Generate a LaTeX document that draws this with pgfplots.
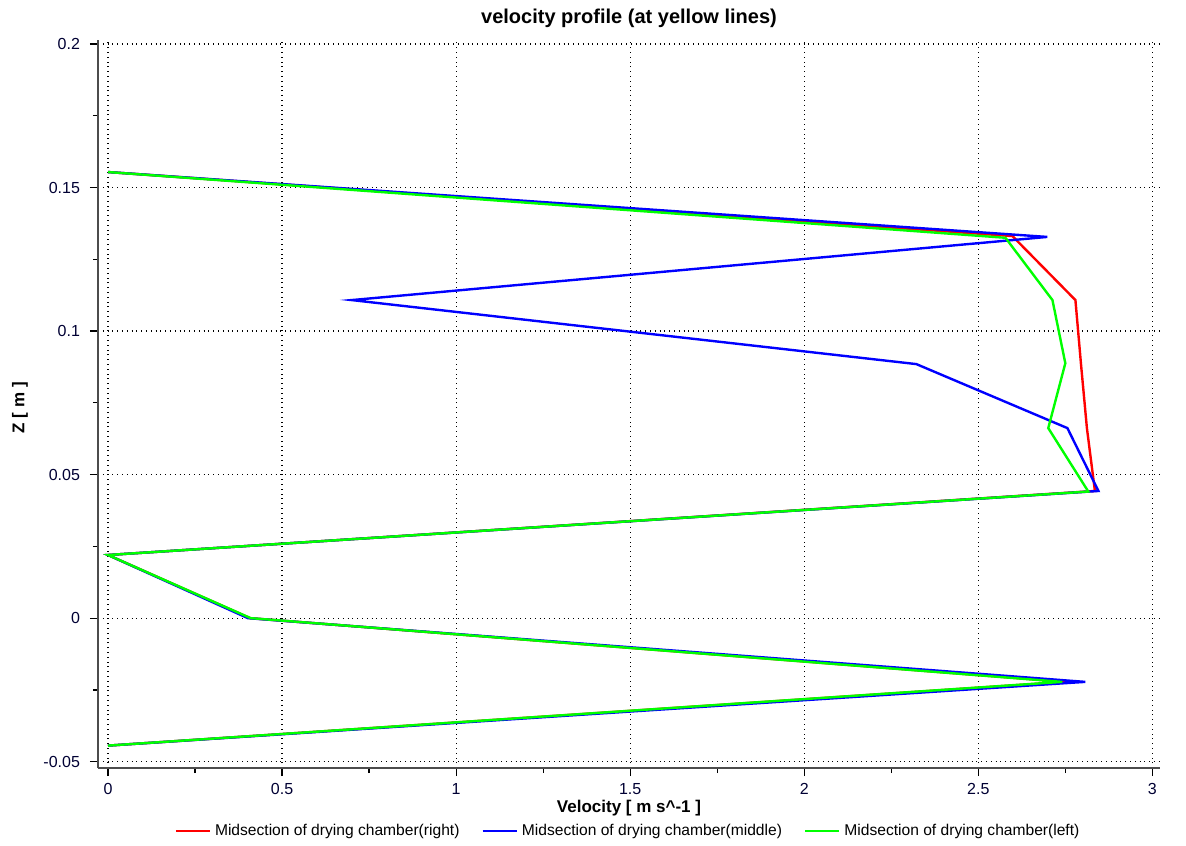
\documentclass[border=0pt]{standalone}
\usepackage{fontspec}
\setmainfont{Liberation Sans}
\usepackage{pgfplots}
\pgfplotsset{compat=1.18}
\begin{document}
\begin{tikzpicture}
\begin{axis}[
  name=ax,
  scale only axis,
  width=531pt, height=364pt,
  xmin=-0.0287, xmax=3.022, ymin=-0.0522, ymax=0.2014,
  axis x line*=bottom, axis y line*=left,
  axis line style={black!70, line width=0.8pt},
  xtick={0,0.5,...,3}, ytick={-0.05,0,0.05,0.1,0.15,0.2},
  xticklabels={0,0.5,1,1.5,2,2.5,3},
  yticklabels={-0.05,0,0.05,0.1,0.15,0.2},
  minor x tick num=1, minor y tick num=1,
  tick align=outside,
  major tick length=4pt, minor tick length=2.5pt,
  tick style={black, line width=0.6pt},
  grid=major,
  major grid style={black, dotted, line width=0.6pt},
  ticklabel style={font=\fontsize{8}{9}\selectfont, text=black!80!blue},
  yticklabel style={xshift=-1.5pt},
  title={\textbf{velocity profile (at yellow lines)}},
  every axis title/.style={at={(axis description cs:0.5,1)}, anchor=center, yshift=11pt, font=\fontsize{10}{12}\selectfont},
  xlabel={\textbf{Velocity [ m s\textasciicircum-1 ]}},
  ylabel={\textbf{Z [ m ]}},
  every axis x label/.style={at={(axis description cs:0.5,0)}, anchor=center, yshift=-20pt, font=\fontsize{8.5}{10}\selectfont},
  every axis y label/.style={at={(axis description cs:0,0.495)}, anchor=center, rotate=90, yshift=39pt, font=\fontsize{8.5}{10}\selectfont},
  legend columns=3,
  legend style={draw=none, fill=none, font=\fontsize{7.8}{9}\selectfont, at={(0.5,0)}, anchor=center, yshift=-31.5pt,
    /tikz/every even column/.append style={column sep=9pt}},
  legend image code/.code={\draw[#1, line width=1.2pt] (0cm,0cm) -- (17pt,0cm);},
]
\addplot[red, line width=1.2pt] coordinates {
(0,0.1554) (2.598,0.1331) (2.779,0.1108) (2.795,0.0885) (2.812,0.0662) (2.835,0.0443)
(0,0.0220) (0.408,0.0) (2.75,-0.0222) (0,-0.0444)};
\addlegendentry{Midsection of drying chamber(right)}
\addplot[blue, line width=1.2pt] coordinates {
(0,0.1554) (2.698,0.1328) (0.70,0.1108) (2.322,0.0885) (2.756,0.0662) (2.845,0.0443)
(0,0.0220) (0.402,0.0) (2.807,-0.0222) (0,-0.0444)};
\addlegendentry{Midsection of drying chamber(middle)}
\addplot[green, line width=1.2pt] coordinates {
(0,0.1554) (2.578,0.1325) (2.713,0.1108) (2.750,0.0888) (2.701,0.0662) (2.816,0.0441)
(0,0.0220) (0.410,0.0) (2.741,-0.0222) (0,-0.0444)};
\addlegendentry{Midsection of drying chamber(left)}
\end{axis}
\pgfresetboundingbox
\path ([shift={(-49pt,-38.5pt)}]ax.south west) rectangle ([shift={(13pt,20pt)}]ax.north east);
\end{tikzpicture}
\end{document}
